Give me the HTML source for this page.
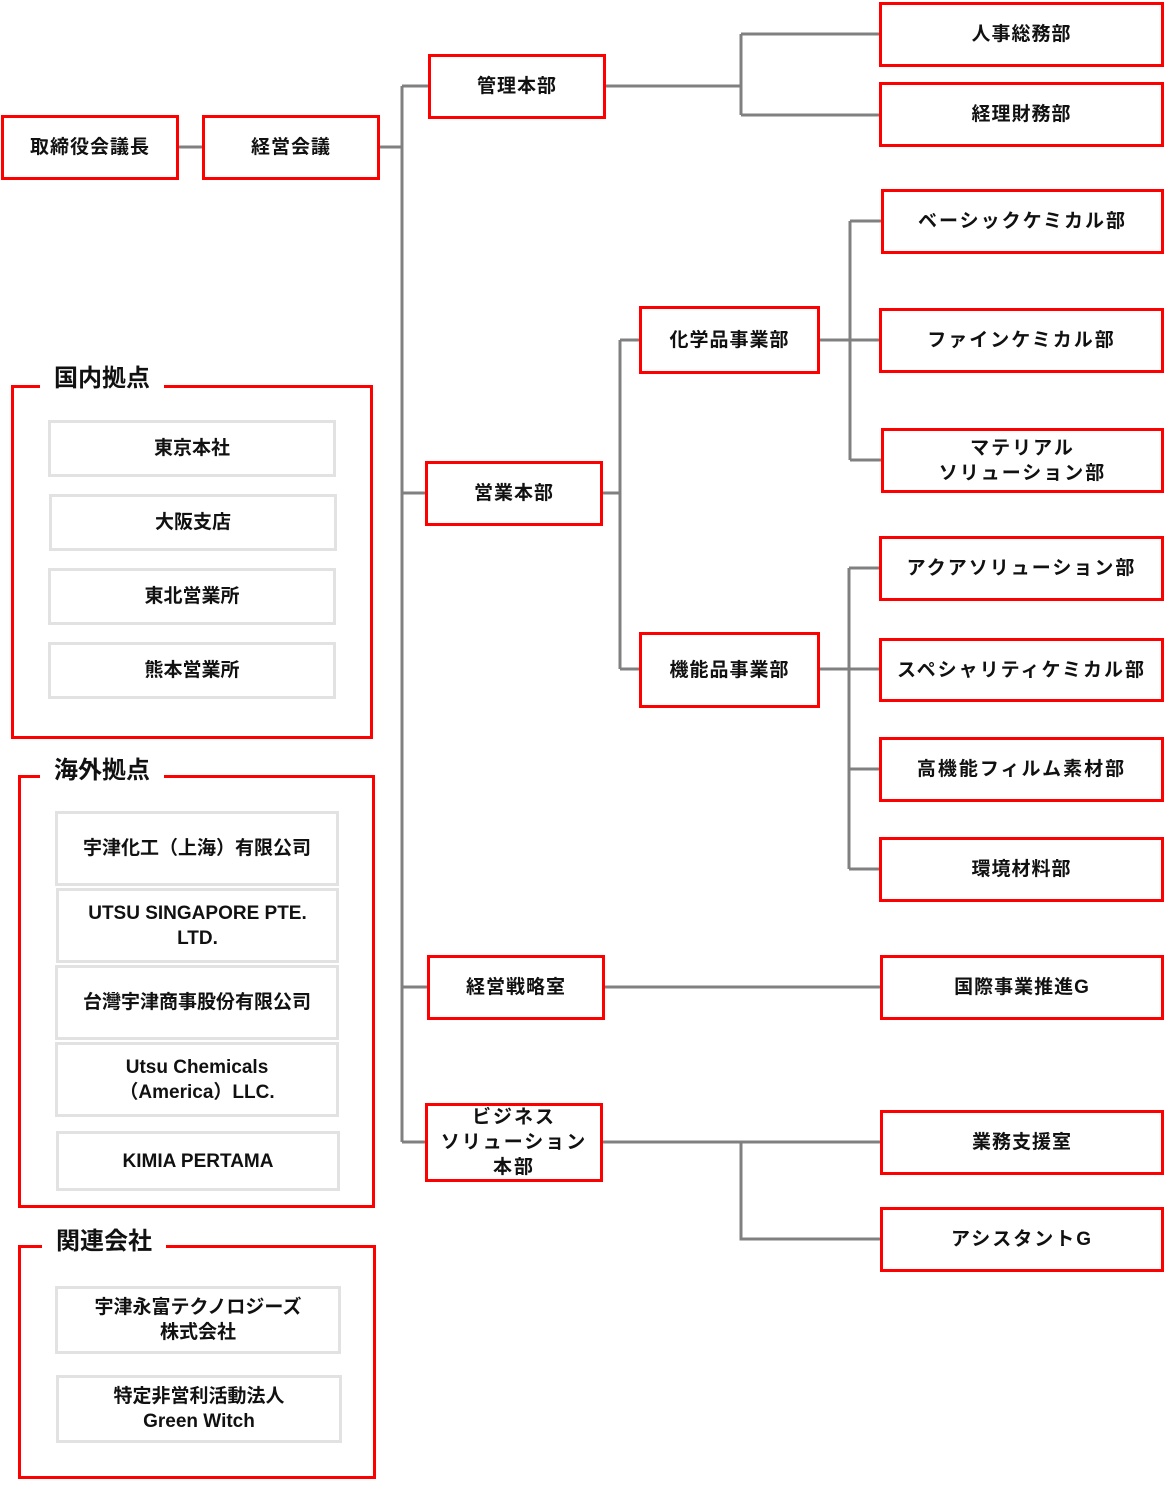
<!DOCTYPE html>
<html><head><meta charset="utf-8">
<style>
body{margin:0;width:1164px;height:1512px;background:#fff;position:relative;overflow:hidden;font-family:"Liberation Sans","Noto Sans CJK JP",sans-serif;color:#111}
.b{position:absolute;box-sizing:border-box;border:3px solid #f00;display:flex;align-items:center;justify-content:center;text-align:center;font-size:19px;font-weight:bold;line-height:25px;letter-spacing:1px;background:#fff}
.g{position:absolute;box-sizing:border-box;border:3px solid #e2e2e2;display:flex;align-items:center;justify-content:center;text-align:center;font-size:19px;font-weight:bold;line-height:25px;background:#fff}
.f{position:absolute;box-sizing:border-box;border:3px solid #f00}
.t{position:absolute;background:#fff;font-size:24px;font-weight:bold;padding:0 14px;line-height:30px}
svg{position:absolute;left:0;top:0}
</style></head><body>
<svg width="1164" height="1512" stroke="#808080" stroke-width="3" fill="none">
<path d="M178 147H202M379 147H402M402 86V1142M402 86H428M402 493H425M402 987H427M402 1142H425"/>
<path d="M605 86H741M741 34V115M741 34H879M741 115H879"/>
<path d="M602 493H620M620 340V669M620 340H639M620 669H639"/>
<path d="M819 340H879M850 221V460M850 221H881M850 460H881"/>
<path d="M819 669H879M849 568V869M849 568H879M849 769H879M849 869H879"/>
<path d="M604 987H880"/>
<path d="M602 1142H880M741 1142V1239H880"/>
</svg>
<div class="b" style="left:1px;top:115px;width:178px;height:65px">取締役会議長</div>
<div class="b" style="left:202px;top:115px;width:178px;height:65px">経営会議</div>
<div class="b" style="left:428px;top:54px;width:178px;height:65px">管理本部</div>
<div class="b" style="left:879px;top:2px;width:285px;height:65px">人事総務部</div>
<div class="b" style="left:879px;top:82px;width:285px;height:65px">経理財務部</div>
<div class="b" style="left:881px;top:189px;width:283px;height:65px;letter-spacing:2px">ベーシックケミカル部</div>
<div class="b" style="left:879px;top:308px;width:285px;height:65px;letter-spacing:2px">ファインケミカル部</div>
<div class="b" style="left:881px;top:428px;width:283px;height:65px;letter-spacing:2px">マテリアル<br>ソリューション部</div>
<div class="b" style="left:639px;top:306px;width:181px;height:68px">化学品事業部</div>
<div class="b" style="left:425px;top:461px;width:178px;height:65px">営業本部</div>
<div class="b" style="left:639px;top:632px;width:181px;height:76px">機能品事業部</div>
<div class="b" style="left:879px;top:536px;width:285px;height:65px;letter-spacing:2px">アクアソリューション部</div>
<div class="b" style="left:879px;top:638px;width:285px;height:64px;letter-spacing:2px">スペシャリティケミカル部</div>
<div class="b" style="left:879px;top:737px;width:285px;height:65px;letter-spacing:2px">高機能フィルム素材部</div>
<div class="b" style="left:879px;top:837px;width:285px;height:65px">環境材料部</div>
<div class="b" style="left:427px;top:955px;width:178px;height:65px">経営戦略室</div>
<div class="b" style="left:880px;top:955px;width:284px;height:65px">国際事業推進G</div>
<div class="b" style="left:425px;top:1103px;width:178px;height:79px;letter-spacing:2px">ビジネス<br>ソリューション<br>本部</div>
<div class="b" style="left:880px;top:1110px;width:284px;height:65px">業務支援室</div>
<div class="b" style="left:880px;top:1207px;width:284px;height:65px;letter-spacing:2px">アシスタントG</div>

<div class="f" style="left:11px;top:385px;width:362px;height:354px"></div>
<div class="t" style="left:40px;top:364px">国内拠点</div>
<div class="g" style="left:48px;top:420px;width:288px;height:57px">東京本社</div>
<div class="g" style="left:49px;top:494px;width:288px;height:57px">大阪支店</div>
<div class="g" style="left:48px;top:568px;width:288px;height:57px">東北営業所</div>
<div class="g" style="left:48px;top:642px;width:288px;height:57px">熊本営業所</div>

<div class="f" style="left:18px;top:775px;width:357px;height:433px"></div>
<div class="t" style="left:40px;top:756px">海外拠点</div>
<div class="g" style="left:55px;top:811px;width:284px;height:75px">宇津化工（上海）有限公司</div>
<div class="g" style="left:56px;top:888px;width:283px;height:75px">UTSU SINGAPORE PTE.<br>LTD.</div>
<div class="g" style="left:55px;top:965px;width:284px;height:75px">台灣宇津商事股份有限公司</div>
<div class="g" style="left:55px;top:1042px;width:284px;height:75px">Utsu Chemicals<br>（America）LLC.</div>
<div class="g" style="left:56px;top:1131px;width:284px;height:60px">KIMIA PERTAMA</div>

<div class="f" style="left:18px;top:1245px;width:358px;height:234px"></div>
<div class="t" style="left:42px;top:1227px">関連会社</div>
<div class="g" style="left:55px;top:1286px;width:286px;height:68px">宇津永富テクノロジーズ<br>株式会社</div>
<div class="g" style="left:56px;top:1375px;width:286px;height:68px">特定非営利活動法人<br>Green Witch</div>
</body></html>
